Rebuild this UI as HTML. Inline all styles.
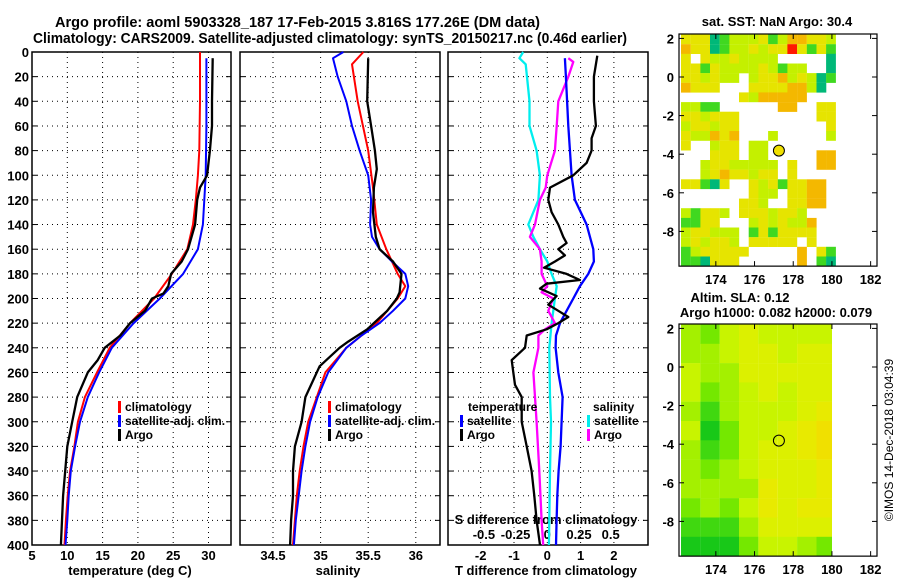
<!DOCTYPE html>
<html><head><meta charset="utf-8"><style>
body{margin:0;background:#fff}
svg{display:block;font-family:"Liberation Sans",sans-serif;font-weight:bold}
</style></head><body>
<svg id="s" width="900" height="580" viewBox="0 0 900 580" xmlns="http://www.w3.org/2000/svg">
<text x="55" y="27" font-size="14.5" textLength="485" lengthAdjust="spacingAndGlyphs">Argo profile: aoml 5903328_187 17-Feb-2015 3.816S 177.26E (DM data)</text>
<text x="33" y="43" font-size="14.5" textLength="594" lengthAdjust="spacingAndGlyphs">Climatology: CARS2009. Satellite-adjusted climatology: synTS_20150217.nc (0.46d earlier)</text>
<text x="777" y="26" font-size="13" text-anchor="middle">sat. SST: NaN Argo: 30.4</text>
<text x="740" y="302" font-size="13" text-anchor="middle">Altim. SLA: 0.12</text>
<text x="776" y="317" font-size="13" text-anchor="middle">Argo h1000: 0.082 h2000: 0.079</text>
<text transform="translate(893,440) rotate(-90)" font-size="12" font-weight="normal" text-anchor="middle">©IMOS 14-Dec-2018 03:04:39</text>
<text x="130" y="575" font-size="13" text-anchor="middle">temperature (deg C)</text>
<text x="338" y="575" font-size="13" text-anchor="middle">salinity</text>
<text x="546" y="575" font-size="13" text-anchor="middle">T difference from climatology</text>
<text x="546" y="524" font-size="13" text-anchor="middle">S difference from climatology</text>
</svg>
<script>
const depthTicks=[0,20,40,60,80,100,120,140,160,180,200,220,240,260,280,300,320,340,360,380,400];
// temperature profiles
const tDep=[0,40,80,100,120,140,160,180,200,220,240,260,280,300,320,340,360,380,400];
const tClim=[28.8,28.8,28.7,28.5,28.2,27.8,27.0,24.8,22.3,18.9,16.0,14.2,12.5,11.5,11.0,10.4,10.05,9.8,9.6];
const tSatDep=[5,60,100,120,140,160,180,200,220,240,260,280,300,320,340,360,380,400];
const tSat=[29.7,29.7,29.6,29.4,29.2,28.5,26.4,23.1,19.4,16.3,14.5,12.9,11.8,11.1,10.5,10.2,10.0,9.75];
const tArgoDep=[5,40,60,80,100,110,120,140,160,170,180,190,196,200,210,220,230,240,250,260,280,300,320,340,360,380,400];
const tArgo=[30.6,30.5,30.5,30.2,29.8,28.8,28.4,28.1,27.1,26.2,24.7,24.3,23.6,22.0,21.0,18.9,17.5,15.3,14.3,12.9,11.4,10.7,10.0,9.7,9.4,9.25,9.1];
const tTicks=[5,10,15,20,25,30];
// salinity profiles
const sDep=[0,10,40,80,110,140,160,180,190,200,220,240,260,280,300,320,340,360,380,400];
const sClim=[35.45,35.33,35.39,35.5,35.55,35.59,35.69,35.81,35.89,35.81,35.59,35.27,35.05,34.96,34.87,34.82,34.78,34.75,34.73,34.71];
const sSatDep=[0,5,20,40,60,80,100,120,140,150,160,170,180,190,200,210,220,230,240,260,280,300,320,340,360,380,400];
const sSat=[35.24,35.13,35.18,35.27,35.33,35.41,35.5,35.53,35.52,35.54,35.62,35.75,35.89,35.92,35.89,35.76,35.62,35.43,35.27,35.08,34.97,34.89,34.84,34.8,34.77,34.74,34.72];
const sArgoDep=[5,40,60,80,95,110,130,150,160,170,180,195,200,210,225,235,240,255,280,300,320,340,360,380,400];
const sArgo=[35.5,35.49,35.53,35.57,35.59,35.56,35.55,35.58,35.62,35.76,35.85,35.83,35.8,35.7,35.49,35.29,35.2,34.99,34.84,34.8,34.73,34.71,34.71,34.69,34.68];
const sTicks=[34.5,35,35.5,36];
// difference profiles
const dtSatDep=[5,20,60,100,120,140,160,170,180,190,200,210,220,230,240,260,280,300,320,340,360,380,400];
const dtSat=[0.53,0.56,0.63,0.73,0.83,1.18,1.38,1.4,1.23,0.98,0.78,0.58,0.38,0.26,0.25,0.33,0.46,0.43,0.4,0.34,0.3,0.28,0.26];
const dtArgoDep=[3,20,40,60,70,80,90,100,110,120,130,140,150,155,160,165,170,175,180,185,188,192,198,205,210,215,220,225,230,240,250,260,270,280,300,320,340,360,380,400];
const dtArgo=[1.5,1.4,1.4,1.46,1.33,1.33,1.18,0.78,0.08,0.03,0.13,0.33,0.48,0.58,0.33,0.53,0.23,-0.1,0.58,0.98,-0.02,-0.22,0.28,0.03,0.33,0.63,0.33,-0.02,-0.62,-0.67,-1.07,-1.02,-0.97,-0.77,-0.77,-0.62,-0.47,-0.39,-0.32,-0.22];
const dsSatDep=[0,5,10,40,60,80,100,120,140,150,160,170,180,190,200,210,220,240,280,300,340,380,400];
const dsSat=[-0.19,-0.22,-0.17,-0.14,-0.14,-0.084,-0.058,-0.07,-0.15,-0.11,-0.058,0,0.034,0.074,0.06,0.047,0.034,0.016,0.021,0.029,0.021,0.016,0.013];
const dsArgoDep=[5,8,20,40,60,80,100,110,120,140,150,160,170,180,190,195,200,210,220,225,230,240,260,280,300,340,380,400];
const dsArgo=[0.166,0.205,0.166,0.087,0.074,0.06,0,-0.013,-0.058,-0.097,-0.137,-0.058,-0.045,-0.045,0,-0.045,0.047,0.008,0.06,-0.018,-0.07,-0.07,-0.11,-0.097,-0.084,-0.063,-0.045,-0.032];
const dTicks=[-2,-1,0,1,2];
const dsTicks=[-0.5,-0.25,0,0.25,0.5];
const dsTickLabels=["-0.5","-0.25","0","0.25","0.5"];
// SST map (0.5 deg cells from 172.2E, 2.2N downward)
const sstRows=[
"yyydglllyglooyyl","oyydgllylyyrygyg","y.yllyllll.....d","yygyllllylgll..d","yylyll.lyyolyldg","oyyy...yyyyoold.",
"......ylooooo...","llgg......oo..yy","yylyyy........yy","lyylyy.........y","ylloyo...l.....l","y..lyy.ll.......",
"...yyy.ll.....oo","..lyylllll.y..oo","..lyoyylyy.y....","yygdy..ylygyyoo.",".......yll.yyoo.","......yyl..yyoo.",
"lgyyl.yyylyyl...","ggyy...lylyllo..","lyylll.gygyyyy..","lylyyl.yyyyy.y..","glyyyyy.....o.yg","ggdyyy......o.gd"];
// SLA map levels (1 deg cells)
const slaRows=[[4,3,5,6,5,5,5,5],[4,4,5,6,6,5,6,6],[5,4,4,6,6,6,6,6],[5,3,4,5,6,5,6,6],[4,2,4,5,5,5,6,7],[5,1,3,5,5,6,7,8],[4,2,3,5,6,6,7,8],[4,3,4,5,6,6,6,7],[4,4,4,4,7,6,6,7],[3,4,3,5,7,6,7,7],[2,2,2,4,6,6,6,6],[1,1,1,3,5,5,4,3]];
const latTicks=[2,0,-2,-4,-6,-8];
const lonTicks=[174,176,178,180,182];
const argoLon=177.26, argoLat=-3.816;

const NS="http://www.w3.org/2000/svg";
const svg=document.getElementById('s');
function el(tag,attrs,parent){const e=document.createElementNS(NS,tag);for(const k in attrs)e.setAttribute(k,attrs[k]);(parent||svg).appendChild(e);return e;}
const yOf=d=>52+d*1.2325;
const xT=t=>32+(t-5)*7.06;
const xS=s=>273+(s-34.5)*95.2;
const xD=t=>547.3+t*33.3;
const xSD=s=>547.3+s*126.8;

function panel(x0,x1,name,ticks,xf,labels){
  const g=el('g',{});
  
  
  depthTicks.forEach(d=>{
    if(d>0&&d<400){const l=el('line',{x1:x0,x2:x1,y1:yOf(d),y2:yOf(d),stroke:'#000','stroke-width':1,'stroke-dasharray':'1 4'},g);
    }
    el('line',{x1:x0,x2:x0+5,y1:yOf(d),y2:yOf(d),stroke:'#000'},g);
    el('line',{x1:x1-5,x2:x1,y1:yOf(d),y2:yOf(d),stroke:'#000'},g);
  });
  ticks.forEach((t,i)=>{
    const x=xf(t);
    const l=el('line',{x1:x,x2:x,y1:52,y2:545,stroke:'#000','stroke-dasharray':'1 4'},g);
    
    const tx=el('text',{x:x,y:560,'font-size':13,'text-anchor':'middle'},g);
    
    tx.textContent=labels?labels[i]:String(t);
  });
  const r=el('rect',{x:x0,y:52,width:x1-x0,height:493,fill:'none',stroke:'#000','stroke-width':1.5},g);
  
}
panel(32,231,'temperature-panel',tTicks,xT);
panel(240,440,'salinity-panel',sTicks,xS);
panel(448,648,'difference-panel',dTicks,xD);
depthTicks.forEach(d=>{
  const t=el('text',{x:29,y:yOf(d)+5,'font-size':13,'text-anchor':'end'});
  
  t.textContent=d;
});
dsTicks.forEach((s,i)=>{
  const t=el('text',{x:xSD(s),y:539,'font-size':13,'text-anchor':'middle'});
  
  t.textContent=dsTickLabels[i];
});
function line(vals,deps,xf,color,w,name){
  const pts=vals.map((v,i)=>xf(v).toFixed(1)+','+yOf(deps[i]).toFixed(1)).join(' ');
  const p=el('polyline',{points:pts,fill:'none',stroke:color,'stroke-width':w,'stroke-linejoin':'round'});
  
}
line(tClim,tDep,xT,'#f00',2,'temp-climatology-line');
line(tSat,tSatDep,xT,'#00f',2,'temp-satellite-line');
line(tArgo,tArgoDep,xT,'#000',2.3,'temp-argo-line');
line(sClim,sDep,xS,'#f00',2,'sal-climatology-line');
line(sSat,sSatDep,xS,'#00f',2,'sal-satellite-line');
line(sArgo,sArgoDep,xS,'#000',2.3,'sal-argo-line');
line(dsSat,dsSatDep,xSD,'#0ee',2.3,'sdiff-satellite-line');
line(dsArgo,dsArgoDep,xSD,'#f0f',2.3,'sdiff-argo-line');
line(dtSat,dtSatDep,xD,'#00f',2.3,'tdiff-satellite-line');
line(dtArgo,dtArgoDep,xD,'#000',2.3,'tdiff-argo-line');

function legend(x,y,items,name){
  items.forEach((it,i)=>{
    const yy=y+i*14;
    if(it[1]){const b=el('rect',{x:x,y:yy-10,width:3,height:12,fill:it[1]});
      }
    const t=el('text',{x:it[1]?x+7:x,y:yy,'font-size':12});
    
    t.textContent=it[0];
  });
}
legend(118,411,[['climatology','#f00'],['satellite-adj. clim.','#00f'],['Argo','#000']],'temp-legend');
legend(328,411,[['climatology','#f00'],['satellite-adj. clim.','#00f'],['Argo','#000']],'sal-legend');
legend(468,411,[['temperature',null]],'tdiff-legend');
legend(460,425,[['satellite','#00f'],['Argo','#000']],'tdiff-legend');
legend(593,411,[['salinity',null]],'sdiff-legend');
legend(587,425,[['satellite','#0ee'],['Argo','#f0f']],'sdiff-legend');

// maps
const mx=lon=>681+(lon-172.2)*19.35;
function map(top,name,draw,zeroY){
  const my=lat=>zeroY-lat*19.3;
  const g=el('g',{});
  
  draw(g,my);
  const r=el('rect',{x:679,y:top,width:198,height:zeroY+9.8*19.3-top,fill:'none',stroke:'#000','stroke-width':1.2},g);
  
  const bot=zeroY+9.8*19.3;
  latTicks.forEach(l=>{
    el('line',{x1:679,x2:684,y1:my(l),y2:my(l),stroke:'#000'},g);
    el('line',{x1:872,x2:877,y1:my(l),y2:my(l),stroke:'#000'},g);
    const t=el('text',{x:674,y:my(l)+5,'font-size':13,'text-anchor':'end'},g);
    t.textContent=l;
  });
  lonTicks.forEach(l=>{
    el('line',{x1:mx(l),x2:mx(l),y1:top,y2:top+5,stroke:'#000'},g);
    el('line',{x1:mx(l),x2:mx(l),y1:bot-5,y2:bot,stroke:'#000'},g);
    const t=el('text',{x:mx(l),y:bot+18,'font-size':13,'text-anchor':'middle'},g);
    t.textContent=l;
  });
  return my;
}
const sstCol={y:'#e6e400',o:'#f4b800',l:'#c4f000',g:'#40d820',d:'#00b878',r:'#ff1800'};
map(34,'sst-map',(g,my)=>{
  sstRows.forEach((row,r)=>{[...row].forEach((c,ci)=>{
    if(c==='.')return;
    const lon=172.2+ci*0.5, lat=2.2-r*0.5;
    const x=mx(lon), y=my(lat);
    const cell=el('rect',{x:x.toFixed(1),y:y.toFixed(1),width:9.8,height:9.8,fill:sstCol[c]},g);
    
  });});
  const c=el('circle',{cx:mx(argoLon),cy:my(argoLat),r:5.5,fill:'#f0e000',stroke:'#000','stroke-width':1},g);
  
},77);
const slaCol=['','#18c818','#40d810','#74e800','#a4f000','#c8f400','#dcf000','#e8ea00','#f0e000'];
map(324,'sla-map',(g,my)=>{
  slaRows.forEach((row,r)=>row.forEach((v,ci)=>{
    const lon=172.2+ci, lat=2.2-r;
    const w=ci===7?Math.min(19.4,mx(180)-mx(lon)):19.4;
    const cell=el('rect',{x:mx(lon).toFixed(1),y:my(lat).toFixed(1),width:w.toFixed(1),height:19.5,fill:slaCol[v]},g);
    
  }));
  const c=el('circle',{cx:mx(argoLon),cy:my(argoLat),r:5.5,fill:'none',stroke:'#000','stroke-width':1},g);
  
},367);
</script>
</body></html>
